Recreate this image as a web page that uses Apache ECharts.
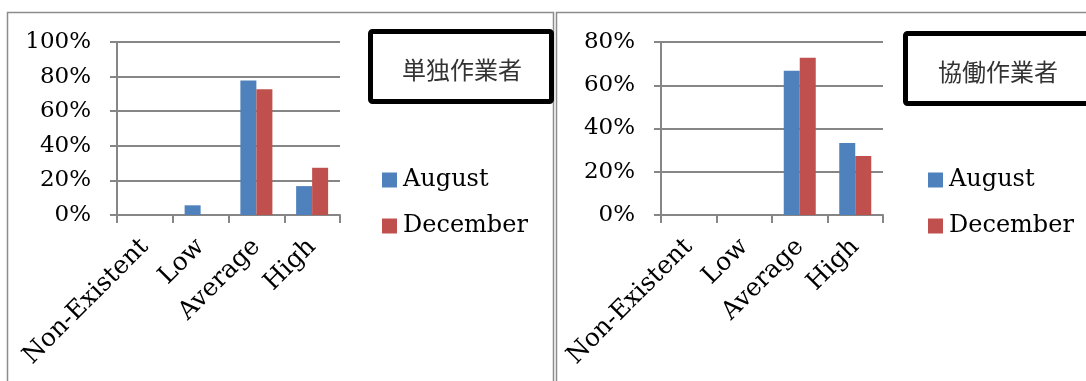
<!DOCTYPE html>
<html>
<head>
<meta charset="utf-8">
<script src="https://cdn.jsdelivr.net/npm/echarts@6/dist/echarts.min.js"></script>
<style>
html,body{margin:0;padding:0;background:#fff;}
#c{width:1086px;height:381px;}
</style>
</head>
<body>
<div id="c"></div>
<script>
const categories = ['Non-Existent', 'Low', 'Average', 'High'];
const seriesNames = ['August', 'December'];
const soloAugust = [0, 5.6, 77.8, 16.7];
const soloDecember = [0, 0, 72.7, 27.3];
const collabAugust = [0, 0, 66.7, 33.3];
const collabDecember = [0, 0, 72.7, 27.3];
const soloTitle = '単独作業者';
const collabTitle = '協働作業者';
const soloMax = 100;
const collabMax = 80;
const tickStep = 20;

const serif = 'DejaVu Serif';
const blue = '#4F81BD';
const red = '#C0504D';
const gridGray = '#868686';

const chart = echarts.init(document.getElementById('c'));

function xAxis(gi) {
  return {
    type: 'category', gridIndex: gi, data: categories,
    axisLine: {lineStyle: {color: gridGray, width: 2}},
    axisTick: {show: true, length: 8, lineStyle: {color: gridGray, width: 2}},
    axisLabel: {rotate: 45, margin: 28, color: '#000', fontFamily: serif, fontSize: 25, interval: 0}
  };
}
function yAxis(gi, max) {
  return {
    type: 'value', gridIndex: gi, min: 0, max: max, interval: tickStep,
    axisLine: {show: true, lineStyle: {color: gridGray, width: 2}},
    axisTick: {show: true, length: 7, lineStyle: {color: gridGray, width: 2}},
    splitLine: {show: true, lineStyle: {color: gridGray, width: 2}},
    axisLabel: {margin: 26, color: '#000', fontFamily: serif, fontSize: 23, formatter: '{value}%'}
  };
}
function bar(name, data, gi, color) {
  return {
    name: name, type: 'bar', xAxisIndex: gi, yAxisIndex: gi, data: data,
    barWidth: 16, barGap: '0%',
    itemStyle: {color: color},
    animation: false
  };
}
function legend(left) {
  return {
    data: seriesNames, orient: 'vertical', left: left, top: 163,
    itemWidth: 15, itemHeight: 15, itemGap: 22, icon: 'rect',
    selectedMode: false,
    textStyle: {fontFamily: serif, fontSize: 24, color: '#000', padding: [0,0,0,1]}
  };
}

chart.setOption({
  animation: false,
  backgroundColor: '#fff',
  grid: [
    {left: 117, right: 1086 - 340, top: 42, bottom: 381 - 215},
    {left: 661, right: 1086 - 883, top: 42, bottom: 381 - 215}
  ],
  xAxis: [xAxis(0), xAxis(1)],
  yAxis: [yAxis(0, soloMax), yAxis(1, collabMax)],
  legend: [legend(377), legend(923)],
  color: [blue, red],
  series: [
    bar(seriesNames[0], soloAugust, 0, blue),
    bar(seriesNames[1], soloDecember, 0, red),
    bar(seriesNames[0], collabAugust, 1, blue),
    bar(seriesNames[1], collabDecember, 1, red)
  ],
  graphic: [
    {type: 'rect', shape: {x: 7.5, y: 12.5, width: 546, height: 420}, style: {fill: null, stroke: '#8c8c8c', lineWidth: 1.5}, z: -1},
    {type: 'rect', shape: {x: 556.5, y: 12.5, width: 600, height: 420}, style: {fill: null, stroke: '#8c8c8c', lineWidth: 1.5}, z: -1},
    {type: 'rect', shape: {x: 370.5, y: 31.5, width: 181, height: 70, r: 2}, style: {fill: '#fff', stroke: '#000', lineWidth: 5}},
    {type: 'rect', shape: {x: 905.5, y: 33.5, width: 300, height: 70, r: 2}, style: {fill: '#fff', stroke: '#000', lineWidth: 5}},
    {type: 'text', x: 462, y: 70, style: {text: soloTitle, fill: '#333', font: '24px "Noto Sans CJK JP"', align: 'center', verticalAlign: 'middle'}, z: 10},
    {type: 'text', x: 998, y: 72, style: {text: collabTitle, fill: '#333', font: '24px "Noto Sans CJK JP"', align: 'center', verticalAlign: 'middle'}, z: 10}
  ]
});
</script>
</body>
</html>
